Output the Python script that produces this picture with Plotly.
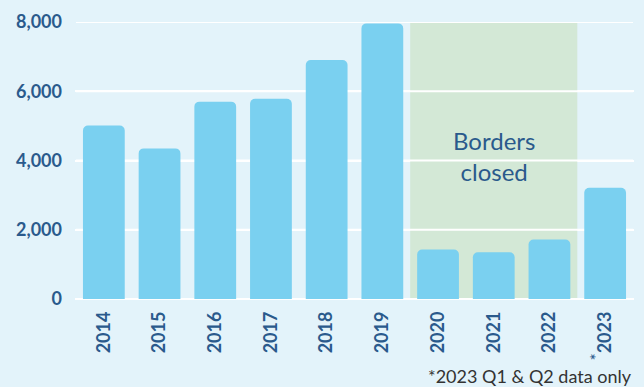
import plotly.graph_objects as go

years = ["2014", "2015", "2016", "2017", "2018", "2019", "2020", "2021", "2022", "2023"]
tick_labels = ["2014", "2015", "2016", "2017", "2018", "2019", "2020", "2021", "2022",
               "<sup><span style='font-size:17px;font-weight:normal'>*</span></sup>2023"]
values = [5010, 4350, 5700, 5780, 6900, 7960, 1430, 1350, 1720, 3210]
y_ticks = [0, 2000, 4000, 6000, 8000]

dark = "#2a5a8c"
bg = "#e3f3fa"

fig = go.Figure()
fig.add_trace(go.Bar(
    x=years, y=values,
    marker=dict(color="#7ad0f0", cornerradius=5, line=dict(width=0)),
    hoverinfo="x+y",
))

fig.add_shape(type="rect", xref="x", yref="y", x0=5.5, x1=8.5, y0=0, y1=8000,
              fillcolor="#d3e8d6", line=dict(width=0), layer="between")
# gridlines redrawn above the shaded band
for t in y_ticks:
    fig.add_shape(type="line", xref="x", yref="y", x0=-0.5, x1=len(years) - 0.5, y0=t, y1=t,
                  line=dict(color="white", width=2), layer="between")

fig.add_annotation(x=7, y=4120, xref="x", yref="y", text="Borders<br>closed",
                   showarrow=False, font=dict(family="Lato", size=24, color=dark))
fig.add_annotation(x=1, y=0, xref="paper", yref="paper", yshift=-64, xanchor="right",
                   yanchor="top", text="*2023 Q1 &amp; Q2 data only", showarrow=False,
                   font=dict(family="Lato", size=18, color="#333333"))

fig.update_layout(
    width=644, height=387,
    margin=dict(l=75, r=10, t=19, b=88),
    paper_bgcolor=bg, plot_bgcolor=bg,
    bargap=0.25,
    showlegend=False,
    font=dict(family="Lato", color=dark),
)
fig.update_xaxes(
    tickmode="array", tickvals=years, ticktext=tick_labels,
    tickangle=-90, showgrid=False, ticks="", ticklabelstandoff=8,
    tickfont=dict(family="Lato", size=18, color=dark, weight="bold"),
    showline=False,
)
fig.update_yaxes(
    range=[0, 8000], tickvals=y_ticks, tickformat=",",
    showgrid=True, gridcolor="white", gridwidth=2,
    zeroline=True, zerolinecolor="white", zerolinewidth=2,
    ticks="", ticklabelstandoff=12,
    tickfont=dict(family="Lato", size=18, color=dark, weight="bold"),
)

fig.write_html("out.html")
